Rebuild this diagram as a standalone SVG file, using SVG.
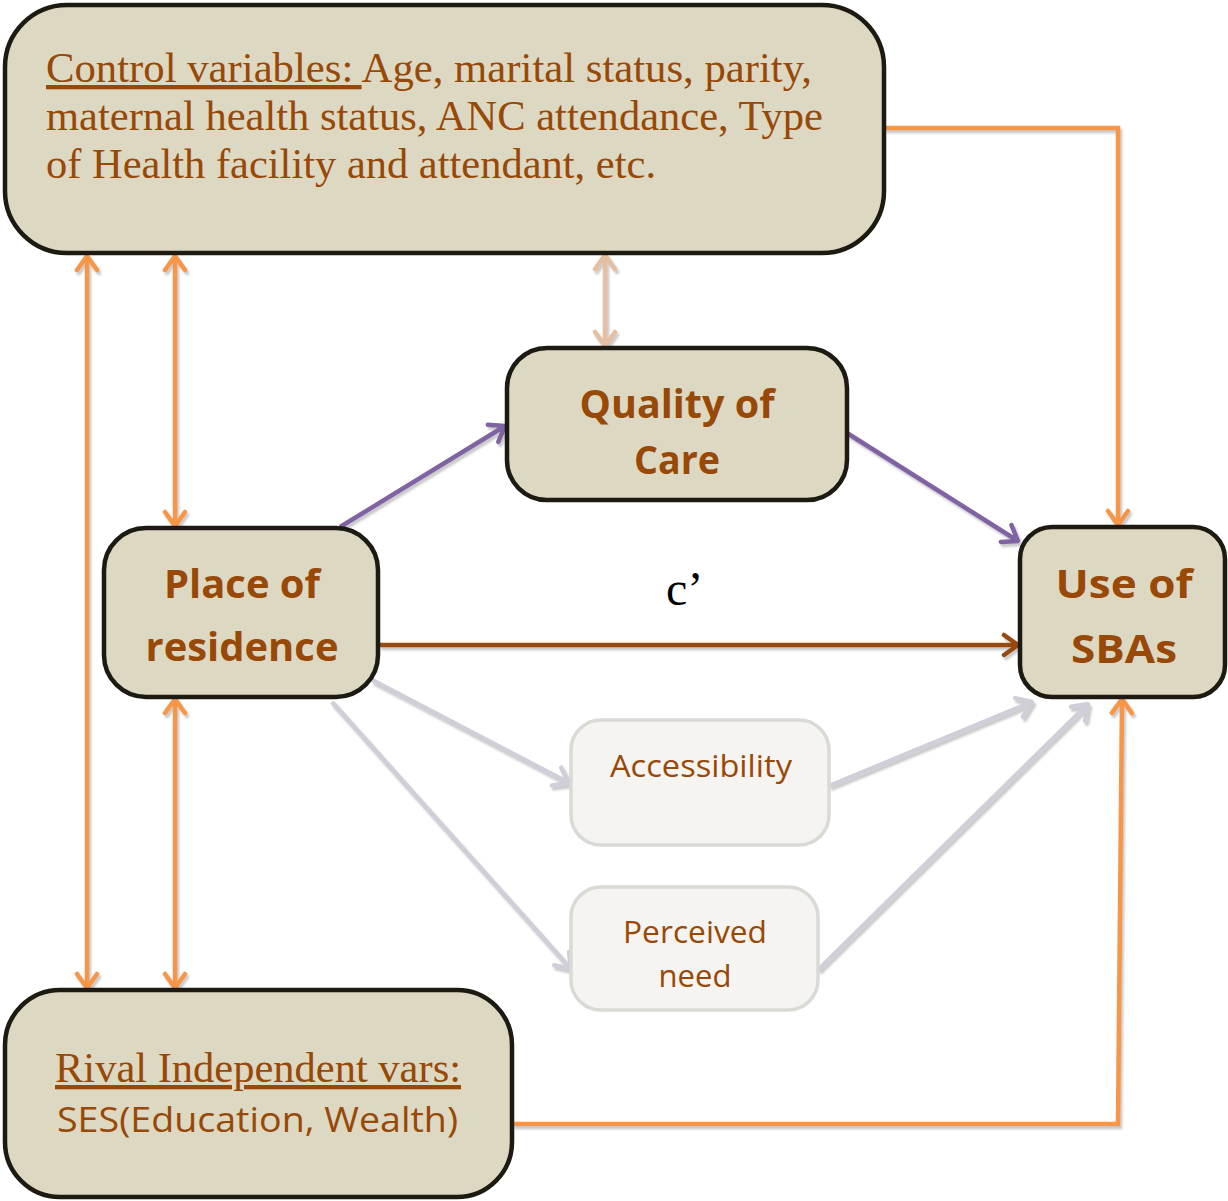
<svg xmlns="http://www.w3.org/2000/svg" width="1228" height="1201" viewBox="0 0 1228 1201">
<style>
.box{fill:#ddd8c2;stroke:#1d1a12;stroke-width:4.5}
.lbox{fill:#f5f4f0;stroke:#d9d9d5;stroke-width:3.5}
.serif{font-family:"Liberation Serif","Times New Roman",serif;fill:#984807}
.bold{font-family:"Open Sans","Noto Sans",sans-serif;font-weight:bold;fill:#984807;font-size:40px;text-anchor:middle}
.reg{font-family:"Open Sans","Noto Sans",sans-serif;fill:#984807}
.c{fill:none;stroke-width:4.5}
.or{stroke:#f79646}
.tan{stroke:#e6bfa3}
.pu{stroke:#8064a2}
.br{stroke:#984807}
.gr{stroke:#d0ced8}
</style>
<defs>
<filter id="sh" x="-20%" y="-20%" width="140%" height="140%">
<feDropShadow dx="2" dy="3" stdDeviation="0.8" flood-color="#888" flood-opacity="0.45"/>
</filter>
<marker id="mOr" viewBox="0 0 20 26" refX="18" refY="13" markerWidth="20" markerHeight="26" markerUnits="userSpaceOnUse" orient="auto-start-reverse"><path d="M4,3 L18,13 L4,23" fill="none" stroke="#f79646" stroke-width="4.5" stroke-linecap="round" stroke-linejoin="round"/></marker>
<marker id="mTan" viewBox="0 0 20 26" refX="18" refY="13" markerWidth="20" markerHeight="26" markerUnits="userSpaceOnUse" orient="auto-start-reverse"><path d="M4,3 L18,13 L4,23" fill="none" stroke="#e6bfa3" stroke-width="4.5" stroke-linecap="round" stroke-linejoin="round"/></marker>
<marker id="mPu" viewBox="0 0 20 26" refX="18" refY="13" markerWidth="20" markerHeight="26" markerUnits="userSpaceOnUse" orient="auto-start-reverse"><path d="M4,3 L18,13 L4,23" fill="none" stroke="#8064a2" stroke-width="4.5" stroke-linecap="round" stroke-linejoin="round"/></marker>
<marker id="mBr" viewBox="0 0 20 26" refX="18" refY="13" markerWidth="20" markerHeight="26" markerUnits="userSpaceOnUse" orient="auto-start-reverse"><path d="M4,3 L18,13 L4,23" fill="none" stroke="#984807" stroke-width="4.5" stroke-linecap="round" stroke-linejoin="round"/></marker>
<marker id="mGr" viewBox="0 0 20 26" refX="18" refY="13" markerWidth="20" markerHeight="26" markerUnits="userSpaceOnUse" orient="auto-start-reverse"><path d="M4,3 L18,13 L4,23" fill="none" stroke="#d0ced8" stroke-width="4.5" stroke-linecap="round" stroke-linejoin="round"/></marker>
</defs>

<g id="connectors" filter="url(#sh)">
<path class="c or" d="M884,128 H1118 V525" marker-end="url(#mOr)"/>
<path class="c or" d="M87,256 V988" marker-start="url(#mOr)" marker-end="url(#mOr)"/>
<path class="c or" d="M175,256 V526" marker-start="url(#mOr)" marker-end="url(#mOr)"/>
<path class="c or" d="M175,699 V988" marker-start="url(#mOr)" marker-end="url(#mOr)"/>
<path class="c tan" d="M605,255 V346" marker-start="url(#mTan)" marker-end="url(#mTan)"/>
<path class="c or" d="M512,1124 H1118 L1122,699" marker-end="url(#mOr)"/>
<path class="c pu" d="M340,527 L505,426" marker-end="url(#mPu)"/>
<path class="c pu" d="M847,433 L1018,541" marker-end="url(#mPu)"/>
<path class="c br" d="M379,645 L1018,645" marker-end="url(#mBr)"/>
<path class="c gr" d="M372,680 L569,783" marker-end="url(#mGr)"/>
<path class="c gr" d="M332,702 L571,969" marker-end="url(#mGr)"/>
<path class="c gr" d="M829,786 L1032,702" marker-end="url(#mGr)"/>
<path class="c gr" d="M818,970 L1088,704" marker-end="url(#mGr)"/>
</g>

<g id="control">
<rect class="box" x="5" y="5" width="879" height="248" rx="62"/>
<text class="serif" font-size="43" x="46" y="82" textLength="766" lengthAdjust="spacingAndGlyphs"><tspan text-decoration="underline">Control variables: </tspan>Age, marital status, parity,</text>
<text class="serif" font-size="43" x="46" y="130" textLength="777" lengthAdjust="spacingAndGlyphs">maternal health status, ANC attendance, Type</text>
<text class="serif" font-size="43" x="46" y="178" textLength="610" lengthAdjust="spacingAndGlyphs">of Health facility and attendant, etc.</text>
</g>

<g id="quality">
<rect class="box" x="507" y="348" width="340" height="152" rx="40"/>
<text class="bold" x="677" y="418" textLength="195" lengthAdjust="spacingAndGlyphs">Quality of</text>
<text class="bold" x="677" y="474" textLength="86" lengthAdjust="spacingAndGlyphs">Care</text>
</g>

<g id="residence">
<rect class="box" x="104" y="528" width="274" height="169" rx="42"/>
<text class="bold" x="242" y="598" textLength="156" lengthAdjust="spacingAndGlyphs">Place of</text>
<text class="bold" x="242" y="661" textLength="193" lengthAdjust="spacingAndGlyphs">residence</text>
</g>

<g id="sba">
<rect class="box" x="1020" y="527" width="205" height="170" rx="32"/>
<text class="bold" x="1124" y="598" textLength="137" lengthAdjust="spacingAndGlyphs">Use of</text>
<text class="bold" x="1124" y="663" textLength="106" lengthAdjust="spacingAndGlyphs">SBAs</text>
</g>

<g id="label-c">
<text x="666" y="605" font-family="Liberation Serif,'Times New Roman',serif" font-size="48" fill="#000">c’</text>
</g>

<g id="accessibility">
<rect class="lbox" x="571" y="720" width="258" height="125" rx="30"/>
<text class="reg" font-size="31" x="701" y="777" text-anchor="middle" textLength="182" lengthAdjust="spacingAndGlyphs">Accessibility</text>
</g>

<g id="need">
<rect class="lbox" x="571" y="887" width="247" height="123" rx="30"/>
<text class="reg" font-size="31" x="695" y="943" text-anchor="middle" textLength="144" lengthAdjust="spacingAndGlyphs">Perceived</text>
<text class="reg" font-size="31" x="695" y="987" text-anchor="middle" textLength="73" lengthAdjust="spacingAndGlyphs">need</text>
</g>

<g id="rival">
<rect class="box" x="5" y="990" width="507" height="207" rx="55"/>
<text class="serif" font-size="43" x="55" y="1082" textLength="406" lengthAdjust="spacingAndGlyphs" text-decoration="underline">Rival Independent vars:</text>
<text class="reg" font-size="35" x="57" y="1132" textLength="401" lengthAdjust="spacingAndGlyphs">SES(Education, Wealth)</text>
</g>
</svg>
